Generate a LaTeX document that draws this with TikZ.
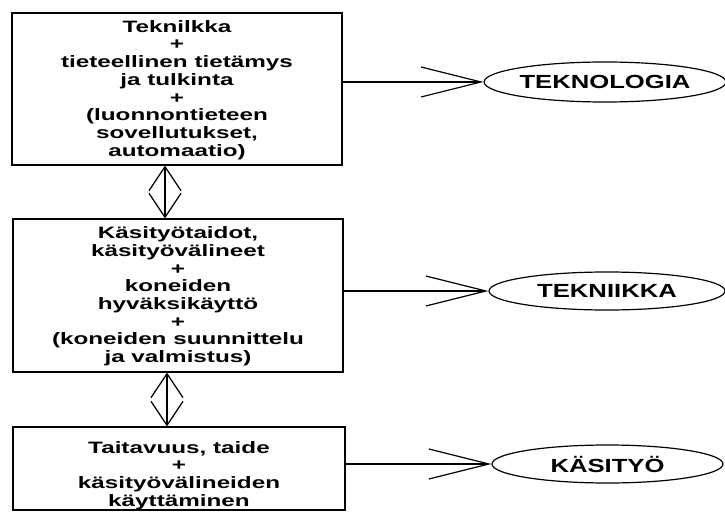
\documentclass[tikz,border=0pt]{standalone}
\usepackage{fontspec}
\usepackage{graphicx}
\setmainfont{Liberation Sans}
\usetikzlibrary{arrows.meta,shapes.geometric}
\newcommand{\boxtext}[2]{\raisebox{#1}[0pt][0pt]{\scalebox{1.47}[1]{\fontsize{16.5}{17.7}\selectfont\bfseries\renewcommand{\arraystretch}{1}\begin{tabular}{@{}c@{}}#2\end{tabular}}}}
\newcommand{\ovaltext}[1]{\scalebox{1.35}[1]{\fontsize{19}{22}\selectfont\bfseries #1}}
\begin{document}
\begin{tikzpicture}[x=1pt,y=-1pt,
  every node/.style={text=black},
  boxstyle/.style={draw, line width=1.2pt, rectangle, inner sep=0pt},
  ovalstyle/.style={draw, line width=1.2pt, ellipse, inner sep=0pt},
  vee/.style={line width=1.2pt, {Straight Barb[length=24pt,width=32pt]}-{Straight Barb[length=24pt,width=32pt]}},
  hee/.style={line width=1.2pt, -{Straight Barb[length=60pt,width=30pt]}}]
\useasboundingbox (0,0) rectangle (725,513);
\node[boxstyle, minimum width=330pt, minimum height=152pt] (b1) at (177,89)
  {\boxtext{-6pt}{Teknilkka\\+\\tieteellinen tietämys\\ja tulkinta\\+\\(luonnontieteen\\sovellutukset,\\automaatio)}};
\node[boxstyle, minimum width=330pt, minimum height=153pt] (b2) at (178,295.5)
  {\boxtext{-6pt}{Käsityötaidot,\\käsityövälineet\\+\\koneiden\\hyväksikäyttö\\+\\(koneiden suunnittelu\\ja valmistus)}};
\node[boxstyle, minimum width=332pt, minimum height=83pt] (b3) at (179,468.5)
  {\boxtext{-12pt}{Taitavuus, taide\\+\\käsityövälineiden\\käyttäminen}};
\node[ovalstyle, minimum width=236pt, minimum height=40pt] (e1) at (605,82) {\ovaltext{TEKNOLOGIA}};
\node[ovalstyle, minimum width=236pt, minimum height=38pt] (e2) at (607,291) {\ovaltext{TEKNIIKKA}};
\node[ovalstyle, minimum width=231pt, minimum height=38pt] (e3) at (607.5,464) {\ovaltext{KÄSITYÖ}};
\draw[vee] (b1.south -| 165,0) -- (b2.north -| 165,0);
\draw[vee] (b2.south -| 167,0) -- (b3.north -| 167,0);
\draw[hee] (b1.east |- e1.west) -- (e1.west);
\draw[hee] (b2.east |- e2.west) -- (e2.west);
\draw[hee] (b3.east |- e3.west) -- (e3.west);
\end{tikzpicture}
\end{document}
